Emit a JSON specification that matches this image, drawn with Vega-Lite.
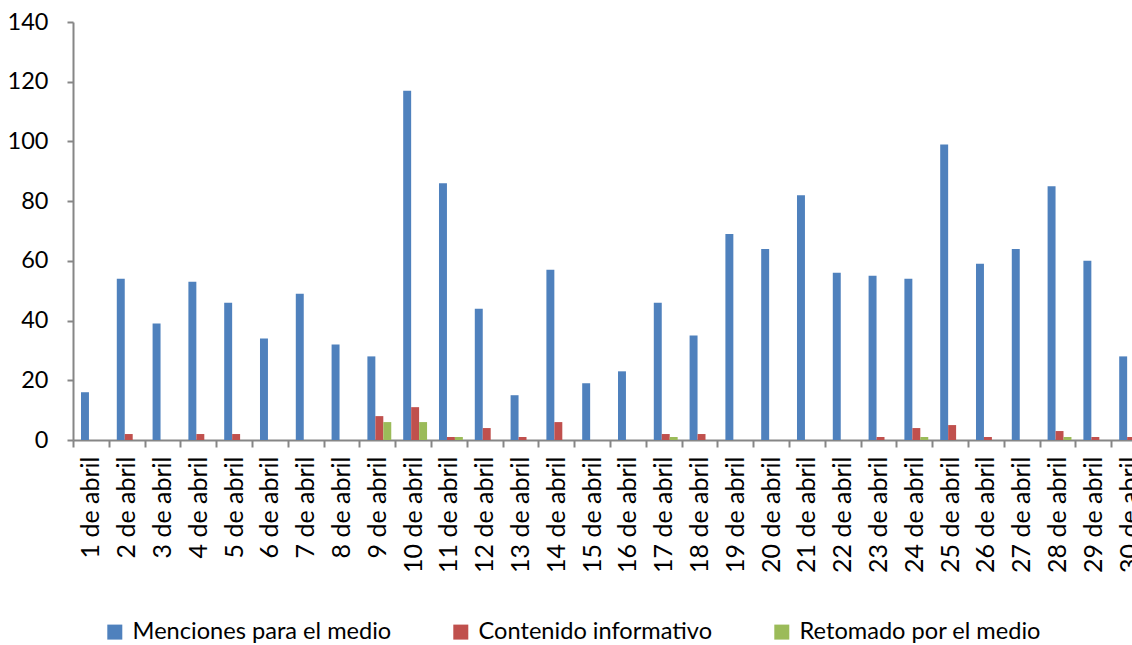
{
  "$schema": "https://vega.github.io/schema/vega-lite/v6.json",
  "width": 1059,
  "height": 418,
  "autosize": {"type": "none"},
  "padding": {"left": 73, "top": 22, "right": 0, "bottom": 205},
  "background": "white",
  "config": {"view": {"stroke": null}, "font": "Lato"},
  "datasets": {
    "d": [
      {"dia": "1 de abril", "serie": "Menciones para el medio", "valor": 16},
      {"dia": "2 de abril", "serie": "Menciones para el medio", "valor": 54},
      {"dia": "3 de abril", "serie": "Menciones para el medio", "valor": 39},
      {"dia": "4 de abril", "serie": "Menciones para el medio", "valor": 53},
      {"dia": "5 de abril", "serie": "Menciones para el medio", "valor": 46},
      {"dia": "6 de abril", "serie": "Menciones para el medio", "valor": 34},
      {"dia": "7 de abril", "serie": "Menciones para el medio", "valor": 49},
      {"dia": "8 de abril", "serie": "Menciones para el medio", "valor": 32},
      {"dia": "9 de abril", "serie": "Menciones para el medio", "valor": 28},
      {"dia": "10 de abril", "serie": "Menciones para el medio", "valor": 117},
      {"dia": "11 de abril", "serie": "Menciones para el medio", "valor": 86},
      {"dia": "12 de abril", "serie": "Menciones para el medio", "valor": 44},
      {"dia": "13 de abril", "serie": "Menciones para el medio", "valor": 15},
      {"dia": "14 de abril", "serie": "Menciones para el medio", "valor": 57},
      {"dia": "15 de abril", "serie": "Menciones para el medio", "valor": 19},
      {"dia": "16 de abril", "serie": "Menciones para el medio", "valor": 23},
      {"dia": "17 de abril", "serie": "Menciones para el medio", "valor": 46},
      {"dia": "18 de abril", "serie": "Menciones para el medio", "valor": 35},
      {"dia": "19 de abril", "serie": "Menciones para el medio", "valor": 69},
      {"dia": "20 de abril", "serie": "Menciones para el medio", "valor": 64},
      {"dia": "21 de abril", "serie": "Menciones para el medio", "valor": 82},
      {"dia": "22 de abril", "serie": "Menciones para el medio", "valor": 56},
      {"dia": "23 de abril", "serie": "Menciones para el medio", "valor": 55},
      {"dia": "24 de abril", "serie": "Menciones para el medio", "valor": 54},
      {"dia": "25 de abril", "serie": "Menciones para el medio", "valor": 99},
      {"dia": "26 de abril", "serie": "Menciones para el medio", "valor": 59},
      {"dia": "27 de abril", "serie": "Menciones para el medio", "valor": 64},
      {"dia": "28 de abril", "serie": "Menciones para el medio", "valor": 85},
      {"dia": "29 de abril", "serie": "Menciones para el medio", "valor": 60},
      {"dia": "30 de abril", "serie": "Menciones para el medio", "valor": 28},
      {"dia": "1 de abril", "serie": "Contenido informativo", "valor": 0},
      {"dia": "2 de abril", "serie": "Contenido informativo", "valor": 2},
      {"dia": "3 de abril", "serie": "Contenido informativo", "valor": 0},
      {"dia": "4 de abril", "serie": "Contenido informativo", "valor": 2},
      {"dia": "5 de abril", "serie": "Contenido informativo", "valor": 2},
      {"dia": "6 de abril", "serie": "Contenido informativo", "valor": 0},
      {"dia": "7 de abril", "serie": "Contenido informativo", "valor": 0},
      {"dia": "8 de abril", "serie": "Contenido informativo", "valor": 0},
      {"dia": "9 de abril", "serie": "Contenido informativo", "valor": 8},
      {"dia": "10 de abril", "serie": "Contenido informativo", "valor": 11},
      {"dia": "11 de abril", "serie": "Contenido informativo", "valor": 1},
      {"dia": "12 de abril", "serie": "Contenido informativo", "valor": 4},
      {"dia": "13 de abril", "serie": "Contenido informativo", "valor": 1},
      {"dia": "14 de abril", "serie": "Contenido informativo", "valor": 6},
      {"dia": "15 de abril", "serie": "Contenido informativo", "valor": 0},
      {"dia": "16 de abril", "serie": "Contenido informativo", "valor": 0},
      {"dia": "17 de abril", "serie": "Contenido informativo", "valor": 2},
      {"dia": "18 de abril", "serie": "Contenido informativo", "valor": 2},
      {"dia": "19 de abril", "serie": "Contenido informativo", "valor": 0},
      {"dia": "20 de abril", "serie": "Contenido informativo", "valor": 0},
      {"dia": "21 de abril", "serie": "Contenido informativo", "valor": 0},
      {"dia": "22 de abril", "serie": "Contenido informativo", "valor": 0},
      {"dia": "23 de abril", "serie": "Contenido informativo", "valor": 1},
      {"dia": "24 de abril", "serie": "Contenido informativo", "valor": 4},
      {"dia": "25 de abril", "serie": "Contenido informativo", "valor": 5},
      {"dia": "26 de abril", "serie": "Contenido informativo", "valor": 1},
      {"dia": "27 de abril", "serie": "Contenido informativo", "valor": 0},
      {"dia": "28 de abril", "serie": "Contenido informativo", "valor": 3},
      {"dia": "29 de abril", "serie": "Contenido informativo", "valor": 1},
      {"dia": "30 de abril", "serie": "Contenido informativo", "valor": 1},
      {"dia": "1 de abril", "serie": "Retomado por el medio", "valor": 0},
      {"dia": "2 de abril", "serie": "Retomado por el medio", "valor": 0},
      {"dia": "3 de abril", "serie": "Retomado por el medio", "valor": 0},
      {"dia": "4 de abril", "serie": "Retomado por el medio", "valor": 0},
      {"dia": "5 de abril", "serie": "Retomado por el medio", "valor": 0},
      {"dia": "6 de abril", "serie": "Retomado por el medio", "valor": 0},
      {"dia": "7 de abril", "serie": "Retomado por el medio", "valor": 0},
      {"dia": "8 de abril", "serie": "Retomado por el medio", "valor": 0},
      {"dia": "9 de abril", "serie": "Retomado por el medio", "valor": 6},
      {"dia": "10 de abril", "serie": "Retomado por el medio", "valor": 6},
      {"dia": "11 de abril", "serie": "Retomado por el medio", "valor": 1},
      {"dia": "12 de abril", "serie": "Retomado por el medio", "valor": 0},
      {"dia": "13 de abril", "serie": "Retomado por el medio", "valor": 0},
      {"dia": "14 de abril", "serie": "Retomado por el medio", "valor": 0},
      {"dia": "15 de abril", "serie": "Retomado por el medio", "valor": 0},
      {"dia": "16 de abril", "serie": "Retomado por el medio", "valor": 0},
      {"dia": "17 de abril", "serie": "Retomado por el medio", "valor": 1},
      {"dia": "18 de abril", "serie": "Retomado por el medio", "valor": 0},
      {"dia": "19 de abril", "serie": "Retomado por el medio", "valor": 0},
      {"dia": "20 de abril", "serie": "Retomado por el medio", "valor": 0},
      {"dia": "21 de abril", "serie": "Retomado por el medio", "valor": 0},
      {"dia": "22 de abril", "serie": "Retomado por el medio", "valor": 0},
      {"dia": "23 de abril", "serie": "Retomado por el medio", "valor": 0},
      {"dia": "24 de abril", "serie": "Retomado por el medio", "valor": 1},
      {"dia": "25 de abril", "serie": "Retomado por el medio", "valor": 0},
      {"dia": "26 de abril", "serie": "Retomado por el medio", "valor": 0},
      {"dia": "27 de abril", "serie": "Retomado por el medio", "valor": 0},
      {"dia": "28 de abril", "serie": "Retomado por el medio", "valor": 1},
      {"dia": "29 de abril", "serie": "Retomado por el medio", "valor": 0},
      {"dia": "30 de abril", "serie": "Retomado por el medio", "valor": 0}
    ]
  },
  "data": {"name": "d"},
  "mark": {"type": "bar"},
  "encoding": {
    "x": {
      "field": "dia",
      "type": "nominal",
      "sort": null,
      "scale": {"range": [0, 1074], "paddingInner": 0, "paddingOuter": 0},
      "axis": {
        "title": null,
        "labelAngle": 270,
        "labelAlign": "right",
        "labelBaseline": "middle",
        "labelFontSize": 25,
        "labelColor": "black",
        "labelPadding": 9,
        "tickBand": "extent",
        "tickSize": 7,
        "tickColor": "#868686",
        "tickWidth": 2,
        "domainColor": "#868686",
        "domainWidth": 2,
        "labelOverlap": false
      }
    },
    "xOffset": {
      "field": "serie",
      "type": "nominal",
      "sort": ["Menciones para el medio", "Contenido informativo", "Retomado por el medio"],
      "scale": {"paddingInner": 0, "paddingOuter": 0.75, "align": 0.67}
    },
    "y": {
      "field": "valor",
      "type": "quantitative",
      "scale": {"domain": [0, 140]},
      "axis": {
        "title": null,
        "values": [0, 20, 40, 60, 80, 100, 120, 140],
        "grid": false,
        "labelFontSize": 23.5,
        "labelColor": "black",
        "labelPadding": 19,
        "tickSize": 6,
        "tickColor": "#868686",
        "tickWidth": 2,
        "domainColor": "#868686",
        "domainWidth": 2
      }
    },
    "color": {
      "field": "serie",
      "type": "nominal",
      "scale": {
        "domain": ["Menciones para el medio", "Contenido informativo", "Retomado por el medio"],
        "range": ["#4F81BD", "#C0504D", "#9BBB59"]
      },
      "legend": {
        "title": null,
        "orient": "none",
        "direction": "horizontal",
        "legendX": 30,
        "legendY": 598,
        "symbolType": "square",
        "symbolSize": 225,
        "symbolStrokeWidth": 0,
        "symbolOpacity": 1,
        "labelFontSize": 23.6,
        "labelColor": "black",
        "labelOffset": 6,
        "labelLimit": 400,
        "columnPadding": 57
      }
    }
  }
}
